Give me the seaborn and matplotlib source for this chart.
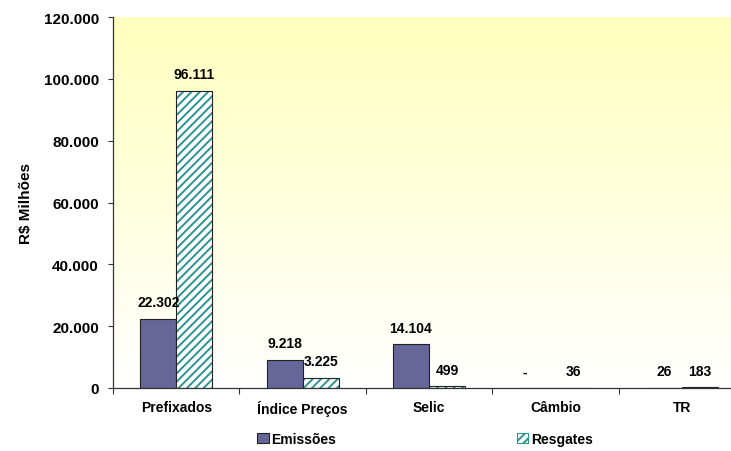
import numpy as np
import pandas as pd
import matplotlib
matplotlib.use("Agg")
import matplotlib.pyplot as plt
from matplotlib.colors import LinearSegmentedColormap
from matplotlib.patches import Rectangle, Patch
from matplotlib.ticker import FuncFormatter, FixedLocator
import seaborn as sns

categorias = ["Prefixados", "Índice Preços", "Selic", "Câmbio", "TR"]
emissoes = [22302, 9218, 14104, 0, 26]
resgates = [96111, 3225, 499, 36, 183]
series = ["Emissões", "Resgates"]

df = pd.DataFrame({
    "categoria": categorias * 2,
    "serie": [series[0]] * len(categorias) + [series[1]] * len(categorias),
    "valor": emissoes + resgates,
})

sns.set_theme(style="white")
plt.rcParams["font.family"] = ["Liberation Sans", "DejaVu Sans"]
plt.rcParams["font.weight"] = "bold"
plt.rcParams["text.color"] = "black"
plt.rcParams["axes.labelcolor"] = "black"
plt.rcParams["xtick.color"] = "black"
plt.rcParams["ytick.color"] = "black"
plt.rcParams["hatch.linewidth"] = 1.4

fig = plt.figure(figsize=(7.31, 4.52), dpi=100)
ax = fig.add_axes([113 / 731, 1 - 389 / 452, 632 / 731, 371 / 452])

roxo = "#666699"
verde = "#2a9490"
ax = sns.barplot(data=df, x="categoria", y="valor", hue="serie",
                 hue_order=series, order=categorias,
                 palette=[roxo, "white"], width=0.57, saturation=1,
                 edgecolor="#222222", linewidth=0.8, legend=False, ax=ax)

# Resgates bars: teal diagonal hatch with a dark outline drawn on top
n = len(categorias)
for p in ax.patches[n:2 * n]:
    p.set_facecolor("white")
    p.set_edgecolor(verde)
    p.set_hatch("////")
    p.set_linewidth(0)
    ax.add_patch(Rectangle((p.get_x(), p.get_y()), p.get_width(), p.get_height(),
                           fill=False, edgecolor="#222222", linewidth=0.8, zorder=p.get_zorder() + 0.1))

# Value labels
def fmt(v):
    return "-" if v == 0 else f"{v:,.0f}".replace(",", ".")

for bars, vals in ((ax.patches[:n], emissoes), (ax.patches[n:2 * n], resgates)):
    for p, v in zip(bars, vals):
        dx = -9 if v == 0 else 0
        ax.annotate(fmt(v), (p.get_x() + p.get_width() / 2, v),
                    xytext=(dx, 12), textcoords="offset points",
                    ha="center", va="center", fontsize=10, fontweight="bold",
                    color="black")

ax.set_ylim(0, 120000)
ax.set_xlim(-0.5, n - 0.5)
ax.set_yticks(np.arange(0, 120001, 20000))
ax.yaxis.set_major_formatter(FuncFormatter(lambda v, _: f"{v:,.0f}".replace(",", ".")))
ax.set_xticks(range(n))
ax.set_xticklabels(categorias, fontsize=10, fontweight="bold")
ax.xaxis.set_minor_locator(FixedLocator(np.arange(-0.5, n, 1.0)))
ax.tick_params(axis="x", which="major", length=0, pad=9)
ax.tick_params(axis="x", which="minor", length=4, width=0.8, color="#333333", direction="out", bottom=True)
ax.tick_params(axis="y", length=3.6, width=0.8, color="#333333", direction="out", left=True, pad=6.5, labelsize=11)
for lab in ax.get_yticklabels():
    lab.set_fontweight("bold")
ax.set_xlabel("")
ax.set_ylabel("R$ Milhões", fontsize=11, fontweight="bold", labelpad=8)

for s in ("top", "right"):
    ax.spines[s].set_visible(False)
for s in ("left", "bottom"):
    ax.spines[s].set_color("#333333")
    ax.spines[s].set_linewidth(0.9)

# Soft yellow gradient behind the bars
cmap = LinearSegmentedColormap.from_list("fundo", ["#ffffff", "#ffffbe"])
grad = np.linspace(0, 1, 256).reshape(-1, 1)
ax.imshow(grad, cmap=cmap, aspect="auto", origin="lower",
          extent=(-0.5, n - 0.5, 0, 120000), zorder=0)
ax.set_xlim(-0.5, n - 0.5)
ax.set_ylim(0, 120000)

handles = [Patch(facecolor=roxo, edgecolor="#222222", linewidth=0.8, label=series[0]),
           Patch(facecolor="white", edgecolor=verde, hatch="////", linewidth=0.8, label=series[1])]
fig.legend(handles=handles, loc="center", bbox_to_anchor=(425 / 731, 1 - 440 / 452),
           ncol=2, frameon=False, handlelength=0.8, handleheight=0.8,
           handletextpad=0.2, columnspacing=13.0, prop={"weight": "bold", "size": 10})

fig.savefig("out.png", dpi=100)
